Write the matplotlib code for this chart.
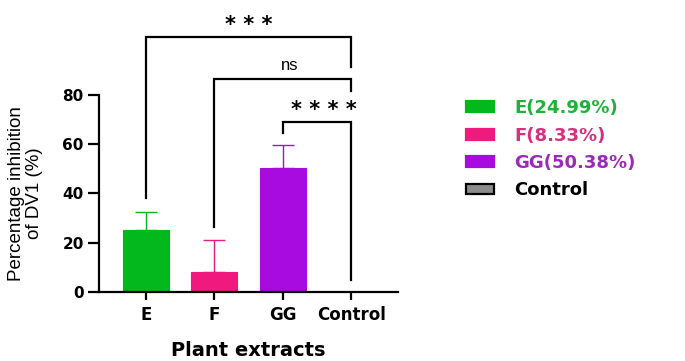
import matplotlib.pyplot as plt
from matplotlib.patches import Patch

plt.rcParams["font.family"] = ["DejaVu Sans"]

categories = ["E", "F", "GG", "Control"]
means = [24.99, 8.33, 50.38, 0.0]
errors = [7.6, 12.8, 9.3, 0.0]
colors = ["#02B81C", "#F0197E", "#A80BDF", "#8C8C8C"]
legend_labels = ["E(24.99%)", "F(8.33%)", "GG(50.38%)", "Control"]
legend_text_colors = ["#1DB33A", "#D6307F", "#9A2AB8", "black"]

# significance brackets: (left idx, right idx, top, left leg end, right leg end, label)
brackets = [
    (0, 3, 103.5, 38.2, 91.4, "* * *"),
    (1, 3, 86.5, 26.4, 81.6, "ns"),
    (2, 3, 69.0, 64.6, 4.9, "* * * *"),
]

fig = plt.figure(figsize=(6.85, 3.61), dpi=100)
ax = fig.add_axes([0.1445, 0.191, 0.4365, 0.546])

x = list(range(len(categories)))
ax.bar(x, means, width=0.67, color=colors, edgecolor=colors, linewidth=0.8, zorder=2)
for xi, m, e, c in zip(x, means, errors, colors):
    if e > 0:
        ax.errorbar(xi, m, yerr=[[0], [e]], fmt="none", ecolor=c, elinewidth=1.0,
                    capsize=8, capthick=1.0, zorder=1)

for i, j, top, left_end, right_end, label in brackets:
    ax.plot([i, i, j, j], [left_end, top, top, right_end], color="black", lw=1.6,
            clip_on=False, solid_joinstyle="miter")
    if label == "ns":
        ax.text((i + j) / 2 + 0.1, top + 2.5, label, ha="center", va="bottom",
                fontsize=12, family="Liberation Sans", clip_on=False)
    else:
        ax.text((i + j) / 2 + (0.1 if i == 2 else 0), top + 1.0, label,
                ha="center", va="bottom", fontsize=15, fontweight="bold", clip_on=False)

ax.set_xlim(-0.686, 3.686)
ax.set_ylim(0, 80)
ax.set_yticks([0, 20, 40, 60, 80])
ax.set_xticks(x)
ax.set_xticklabels(categories)
for lbl in ax.get_yticklabels():
    lbl.set_fontweight("bold")
    lbl.set_fontsize(11)
for lbl in ax.get_xticklabels():
    lbl.set_fontweight("bold")
    lbl.set_fontsize(12)
ax.tick_params(axis="y", width=1.6, length=8, direction="out", pad=3)
ax.tick_params(axis="x", width=1.6, length=6, direction="out", pad=4)
for side in ["top", "right"]:
    ax.spines[side].set_visible(False)
for side in ["left", "bottom"]:
    ax.spines[side].set_linewidth(1.6)

ax.set_ylabel("Percentage inhibition\nof DV1 (%)", fontsize=13.5, family="Liberation Sans",
              labelpad=14, linespacing=1.1)
ax.set_xlabel("Plant extracts", fontsize=14, fontweight="bold", labelpad=12)

handles = [Patch(facecolor=c, edgecolor=("black" if lab == "Control" else c), linewidth=1.6)
           for c, lab in zip(colors, legend_labels)]
leg = fig.legend(handles, legend_labels, loc="upper left", bbox_to_anchor=(0.656, 0.77),
                 frameon=False, prop={"weight": "bold", "size": 13},
                 handlelength=1.6, handleheight=0.55, handletextpad=1.1, labelspacing=0.52)
for t, c in zip(leg.get_texts(), legend_text_colors):
    t.set_color(c)

fig.savefig("out.png", dpi=100)
